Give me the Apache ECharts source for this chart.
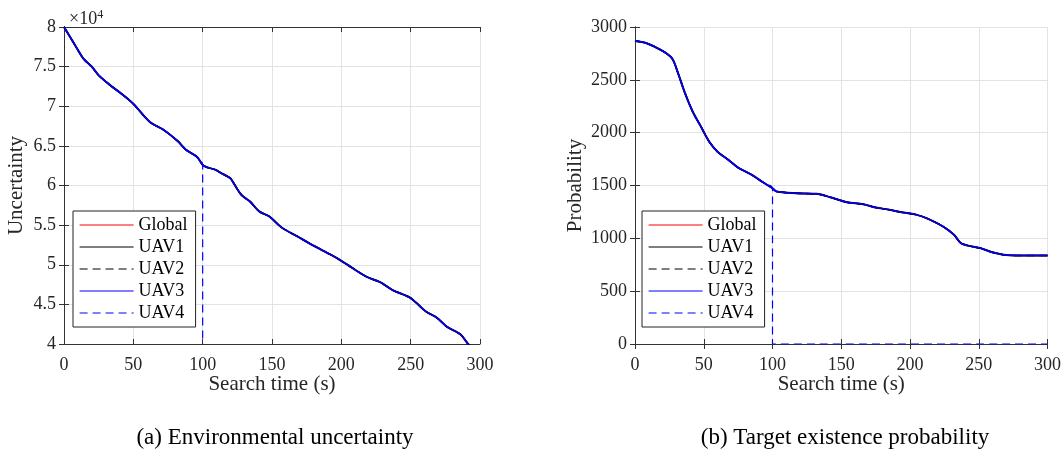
<!DOCTYPE html>
<html>
<head>
<meta charset="utf-8">
<title>UAV search</title>
<script src="https://cdn.jsdelivr.net/npm/echarts@6/dist/echarts.min.js"></script>
<style>
  html, body { margin: 0; padding: 0; background: #fff; }
  #main { width: 1064px; height: 463px; }
</style>
</head>
<body>
<div id="main"></div>
<script>
// data
var seriesNames = ['Global', 'UAV1', 'UAV2', 'UAV3', 'UAV4'];

// (a) environmental uncertainty
var timeU = [0, 8, 14, 20, 25, 33, 42, 50, 62, 72, 82, 88, 96, 100, 103, 109, 114, 120, 123, 128, 134, 141, 148, 157, 168, 180, 192, 200, 207, 218, 228, 237, 249, 254, 261, 269, 276, 286, 292, 300];
var uncertainty = [80000, 77700, 76000, 75000, 73900, 72700, 71500, 70300, 68000, 67000, 65600, 64500, 63600, 62600, 62300, 62000, 61500, 60900, 60100, 58800, 58000, 56700, 56100, 54700, 53600, 52400, 51300, 50500, 49700, 48500, 47800, 46800, 45900, 45200, 44100, 43300, 42200, 41200, 39900, 38800];

// (b) target existence probability
var timeP = [0, 8, 20, 27, 31, 36, 42, 48, 54, 60, 68, 75, 85, 93, 100, 103, 117, 132, 142, 154, 166, 175, 185, 195, 205, 214, 224, 232, 237, 245, 251, 258, 268, 277, 300];
var probability = [2868, 2849, 2774, 2702, 2575, 2387, 2198, 2056, 1914, 1820, 1742, 1669, 1600, 1531, 1474, 1443, 1427, 1421, 1389, 1342, 1323, 1292, 1270, 1244, 1222, 1180, 1112, 1034, 955, 923, 908, 876, 845, 838, 838];

// UAV4 stops reporting at t = 100 s
var uav4DropTime = 100;
var uav4DropValue = 0;

var fontFamily = 'Liberation Serif';
var axisColor = '#333';
var textColor = '#262626';

function pairs(ts, vs) {
  return ts.map(function (t, i) { return [t, vs[i]]; });
}
function dropped(ts, vs) {
  var out = [];
  for (var i = 0; i < ts.length && ts[i] <= uav4DropTime; i++) out.push([ts[i], vs[i]]);
  out.push([uav4DropTime, uav4DropValue]);
  out.push([ts[ts.length - 1], uav4DropValue]);
  return out;
}

var styles = [
  { color: '#ff0000', width: 1.5, type: 'solid' },
  { color: '#000000', width: 2, type: 'solid' },
  { color: '#000000', width: 1.5, type: [8, 5] },
  { color: '#0000ff', width: 1.5, type: 'solid' },
  { color: '#0000ff', width: 1.2, type: [8, 5] }
];

function makeSeries(gi, ts, vs) {
  return seriesNames.map(function (name, k) {
    return {
      name: name,
      type: 'line',
      xAxisIndex: gi * 2,
      yAxisIndex: gi * 2,
      symbol: 'none',
      animation: false,
      smooth: 0.3,
      data: k === 4 ? dropped(ts, vs) : pairs(ts, vs),
      lineStyle: styles[k],
      // no markers: keeps the legend icon a plain line
      itemStyle: { color: styles[k].color, opacity: 0 }
    };
  });
}

function xAxes(gi) {
  var base = {
    type: 'value', gridIndex: gi, min: 0, max: 300, interval: 50,
    axisLine: { show: true, lineStyle: { color: axisColor, width: 1 } },
    axisTick: { show: true, inside: true, length: 5, lineStyle: { color: axisColor } }
  };
  return [
    Object.assign({}, base, {
      position: 'bottom',
      name: 'Search time (s)', nameLocation: 'middle', nameGap: 30,
      nameMoveOverlap: false,
      nameTextStyle: { fontFamily: fontFamily, fontSize: 21, color: textColor },
      axisLabel: { margin: 12, fontFamily: fontFamily, fontSize: 18, color: textColor },
      splitLine: { show: true, lineStyle: { color: '#e3e3e3' } }
    }),
    Object.assign({}, base, {
      position: 'top', axisLabel: { show: false }, splitLine: { show: false }
    })
  ];
}

function yAxes(gi, min, max, step, name, gap, fmt) {
  var base = {
    type: 'value', gridIndex: gi, min: min, max: max, interval: step,
    axisLine: { show: true, lineStyle: { color: axisColor, width: 1 } },
    axisTick: { show: true, inside: true, length: 5, lineStyle: { color: axisColor } }
  };
  return [
    Object.assign({}, base, {
      position: 'left',
      name: name, nameLocation: 'middle', nameGap: gap,
      nameMoveOverlap: false,
      nameTextStyle: { fontFamily: fontFamily, fontSize: 21, color: textColor },
      axisLabel: { margin: 8, fontFamily: fontFamily, fontSize: 18, color: textColor, formatter: fmt },
      splitLine: { show: true, lineStyle: { color: '#e3e3e3' } }
    }),
    Object.assign({}, base, {
      position: 'right', axisLabel: { show: false }, splitLine: { show: false }
    })
  ];
}

function legendAt(left) {
  return {
    data: seriesNames,
    orient: 'vertical',
    left: left, top: 211,
    itemWidth: 54, itemHeight: 2, itemGap: 4,
    padding: [5, 8, 5, 6],
    backgroundColor: '#fff',
    borderColor: '#222', borderWidth: 1,
    selectedMode: false,
    itemStyle: { opacity: 0 },
    lineStyle: { width: 1.2 },
    textStyle: { fontFamily: fontFamily, fontSize: 18, color: '#000', lineHeight: 18 }
  };
}

var myChart = echarts.init(document.getElementById('main'));
var option = {
  backgroundColor: '#fff',
  animation: false,
  title: [
    { text: '(a) Environmental uncertainty', left: 270, top: 421, textAlign: 'center',
      textStyle: { fontFamily: fontFamily, fontSize: 23, fontWeight: 'normal', color: '#000' } },
    { text: '(b) Target existence probability', left: 840, top: 421, textAlign: 'center',
      textStyle: { fontFamily: fontFamily, fontSize: 23, fontWeight: 'normal', color: '#000' } },
    { text: '×10{sup|4}', left: 64, top: 4,
      textStyle: { fontFamily: fontFamily, fontSize: 18, fontWeight: 'normal', color: textColor,
        rich: { sup: { fontFamily: fontFamily, fontSize: 12, verticalAlign: 'top', color: textColor, padding: [0, 0, 8, 0] } } } }
  ],
  legend: [legendAt(73), legendAt(642)],
  grid: [
    { left: 64, top: 27, width: 416, height: 317 },
    { left: 635, top: 27, width: 413, height: 317 }
  ],
  xAxis: xAxes(0).concat(xAxes(1)),
  yAxis: yAxes(0, 40000, 80000, 5000, 'Uncertainty', 37, function (v) { return String(v / 10000); })
    .concat(yAxes(1, 0, 3000, 500, 'Probability', 49, function (v) { return String(v); })),
  series: makeSeries(0, timeU, uncertainty).concat(makeSeries(1, timeP, probability))
};
myChart.setOption(option);
</script>
</body>
</html>
